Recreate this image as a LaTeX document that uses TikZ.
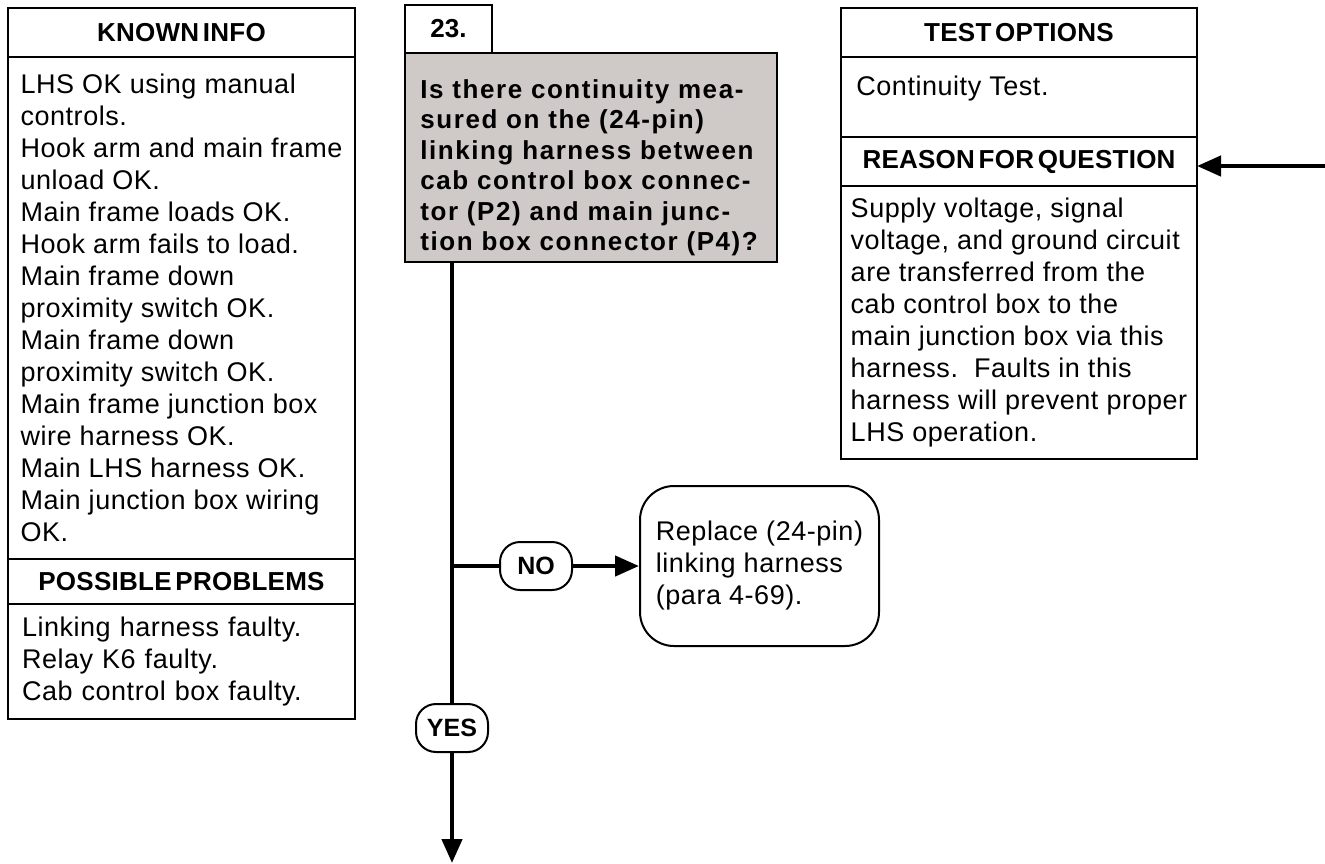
\documentclass[tikz,border=0pt]{standalone}
\usepackage{fontspec}
\setmainfont{Liberation Sans}
\newfontfamily\bodyfont[LetterSpace=2]{Liberation Sans}
\newfontfamily\headfont[LetterSpace=1,WordSpace=0.5]{Liberation Sans}
\newfontfamily\askfont[LetterSpace=6]{Liberation Sans}
\usepackage{xcolor}
\definecolor{askgray}{RGB}{207,201,199}
\usetikzlibrary{positioning,arrows.meta}

\begin{document}
\begin{tikzpicture}[
  txt/.style={font=\bodyfont\fontsize{13.5}{16}\selectfont},
  panel/.style={draw, line width=1pt, outer sep=0pt, minimum width=#1},
  hd/.style={panel=#1, minimum height=24.5pt, font=\headfont\bfseries\fontsize{13}{16}\selectfont},
  pbody/.style={panel=#1, align=left, txt},
  askbox/.style={draw, line width=1.2pt, outer sep=0pt, fill=askgray,
    minimum width=186pt, minimum height=104.5pt},
  asktxt/.style={align=left, inner sep=0pt, font=\askfont\bfseries\fontsize{13}{15.25}\selectfont},
  tag/.style={draw, line width=1pt, fill=white, rounded corners=10pt, minimum width=36pt,
    minimum height=24pt, inner sep=2pt, font=\bfseries\fontsize{12.5}{14}\selectfont},
  fixbox/.style={draw, line width=1pt, rounded corners=17pt, minimum width=119.5pt,
    minimum height=80pt, align=left, txt},
  flow/.style={line width=2.2pt},
  flowarr/.style={flow, -{Triangle[length=12pt, width=10pt]}},
  node distance=0pt]
\useasboundingbox (0,0) rectangle (662.5pt,-431.5pt);
% known info / possible problems
\node[hd=173.5pt, anchor=north west] (kiHead) at (4pt,-4pt) {KNOWN INFO};
\node[pbody=173.5pt, minimum height=251pt, below=of kiHead] (kiBody)
  {LHS OK using manual\\controls.\\Hook arm and main frame\\unload OK.\\Main frame loads OK.\\
   Hook arm fails to load.\\Main frame down\\proximity switch OK.\\Main frame down\\
   proximity switch OK.\\Main frame junction box\\wire harness OK.\\Main LHS harness OK.\\
   Main junction box wiring\\OK.};
\node[hd=173.5pt, minimum height=22.5pt, below=of kiBody] (ppHead) {POSSIBLE PROBLEMS};
\node[pbody=173.5pt, minimum height=57.5pt, text width=159.5pt, inner xsep=7pt,
  below=of ppHead] (ppBody)
  {Linking harness faulty.\\Relay K6 faulty.\\Cab control box faulty.};
% question
\node[draw, line width=1.2pt, outer sep=0pt, minimum width=43.5pt, minimum height=24pt,
  anchor=north west, font=\bfseries\fontsize{13}{16}\selectfont] (numBox) at (202.5pt,-2.5pt) {23.};
\node[askbox, anchor=north west] (qBox) at (numBox.south west) {};
\node[asktxt, anchor=north west] (qText) at ([shift={(7.5pt,-13pt)}]qBox.north west)
  {Is there continuity mea-\\sured on the (24-pin)\\linking harness between\\
   cab control box connec-\\tor (P2) and main junc-\\tion box connector (P4)?};
% test options / reason
\node[hd=178pt, anchor=north west] (toHead) at (420.5pt,-4pt) {TEST OPTIONS};
\node[panel=178pt, minimum height=40pt, below=of toHead] (toBody) {};
\node[txt, anchor=west, inner sep=0pt] (toText) at ([shift={(7.5pt,-16pt)}]toBody.north west)
  {Continuity Test.};
\node[hd=178pt, below=of toBody] (rqHead) {REASON FOR QUESTION};
\node[pbody=178pt, minimum height=136.5pt, below=of rqHead] (rqBody)
  {Supply voltage, signal\\voltage, and ground circuit\\are transferred from the\\
   cab control box to the\\main junction box via this\\harness.\ \ Faults in this\\
   harness will prevent proper\\LHS operation.};
% branches
\coordinate (trunkTop) at ([xshift=23.5pt]qBox.south west);
\coordinate (noFork) at (226pt,-283pt);
\coordinate (yesEnd) at (226pt,-431.5pt);
\coordinate (inRight) at (662.5pt,-83pt);
\node[tag, right=23.5pt of noFork] (noLbl) {NO};
\node[fixbox, right=33pt of noLbl] (fix)
  {Replace (24-pin)\\linking harness\\(para 4-69).};
\node[tag, below=68.5pt of noFork] (yesLbl) {YES};
\draw[flow] (trunkTop) -- (yesLbl.north);
\draw[flow] (noFork) -- (noLbl);
\draw[flowarr] (noLbl) -- (fix);
\draw[flowarr] (yesLbl.south) -- (yesEnd);
\draw[flowarr] (inRight) -- (inRight -| rqHead.east);
\end{tikzpicture}
\end{document}
